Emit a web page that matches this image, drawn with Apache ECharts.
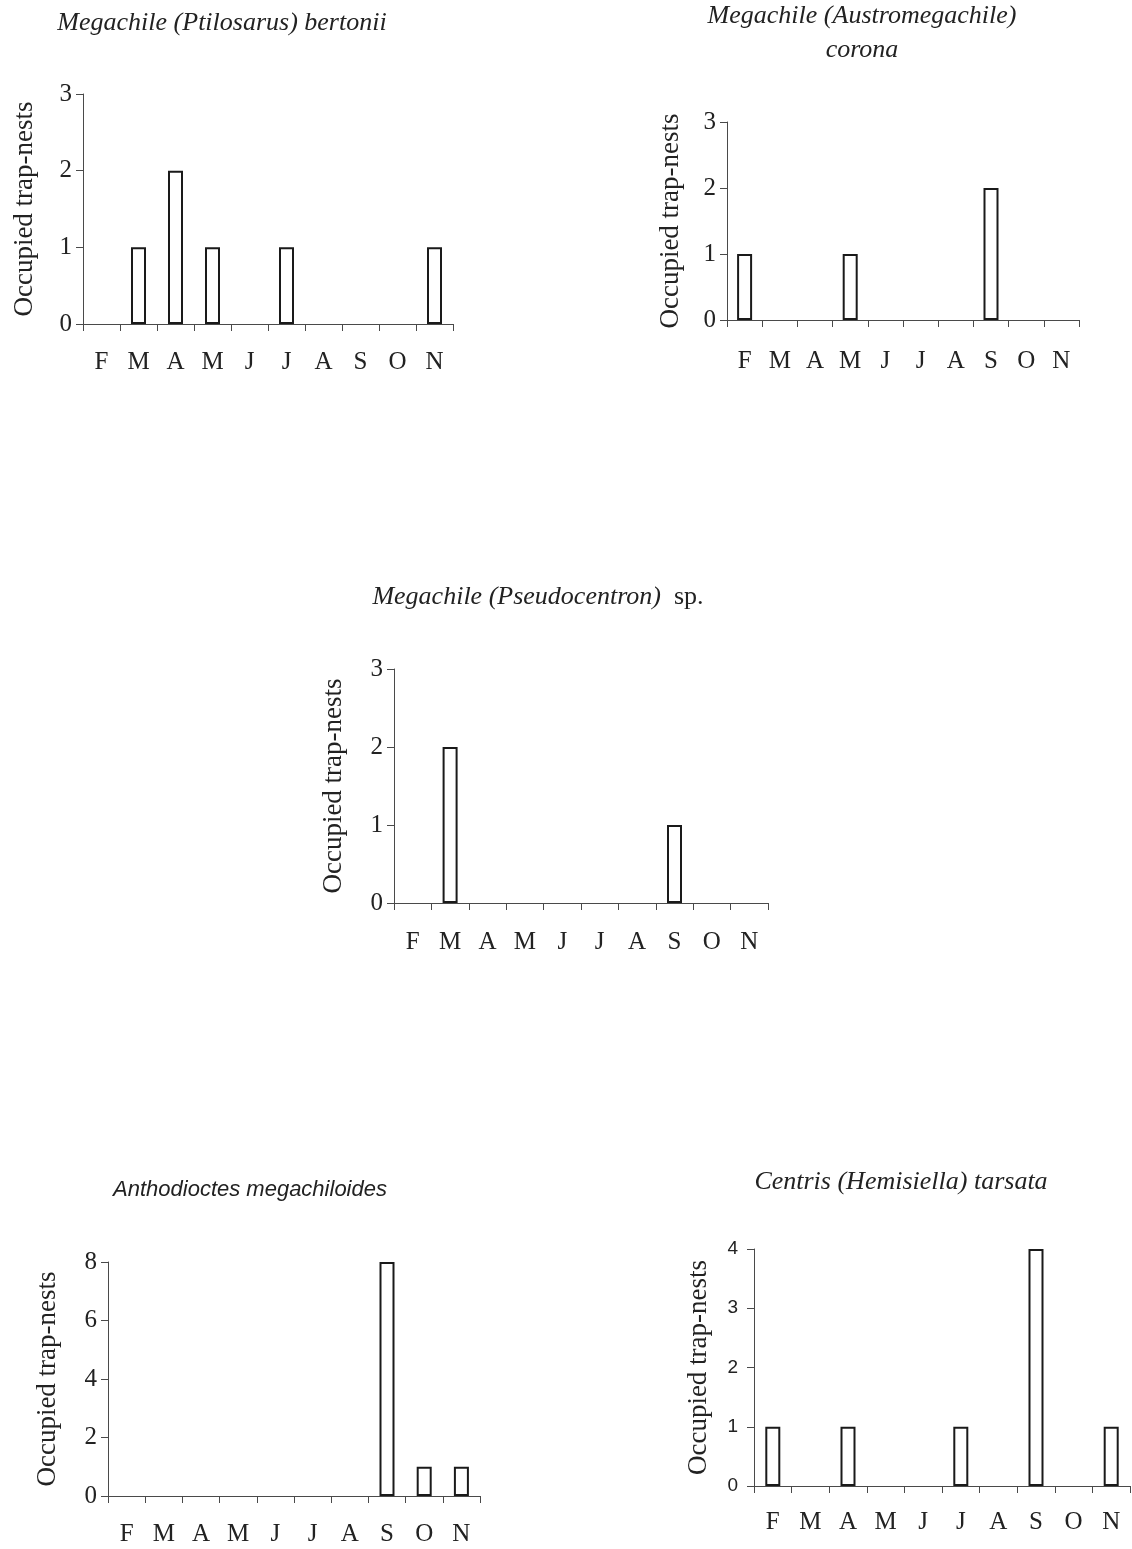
<!DOCTYPE html>
<html>
<head>
<meta charset="utf-8">
<style>
html,body{margin:0;padding:0;background:#fff;}
#chart{width:1132px;height:1549px;}
</style>
<script src="https://cdn.jsdelivr.net/npm/echarts@6/dist/echarts.min.js"></script>
</head>
<body>
<div id="chart"></div>
<script>
// ---- Data ----
const months = ['F', 'M', 'A', 'M', 'J', 'J', 'A', 'S', 'O', 'N'];
const bertonii = [0, 1, 2, 1, 0, 1, 0, 0, 0, 1];
const corona = [1, 0, 0, 1, 0, 0, 0, 2, 0, 0];
const pseudocentron = [0, 2, 0, 0, 0, 0, 0, 1, 0, 0];
const anthodioctes = [0, 0, 0, 0, 0, 0, 0, 8, 1, 1];
const tarsata = [1, 0, 1, 0, 0, 1, 0, 4, 0, 1];
const yMaxes = [3, 3, 3, 8, 4];
const yIntervals = [1, 1, 1, 2, 1];
const yName = 'Occupied trap-nests';

// ---- Layout / style ----
const SERIF = '"Liberation Serif", "Times New Roman", serif';
const SANS = '"Liberation Sans", Arial, sans-serif';
const panels = [
  { data: bertonii, x0: 83, x1: 453, y0: 94, y1: 324, xMargin: 26, yFont: SERIF, yFontSize: 25, yMargin: 11, nameGap: 45 },
  { data: corona, x0: 727, x1: 1079, y0: 122, y1: 320, xMargin: 29, yFont: SERIF, yFontSize: 25, yMargin: 11, nameGap: 43 },
  { data: pseudocentron, x0: 394, x1: 768, y0: 669, y1: 903, xMargin: 27, yFont: SERIF, yFontSize: 25, yMargin: 11, nameGap: 47 },
  { data: anthodioctes, x0: 108, x1: 480, y0: 1262, y1: 1496, xMargin: 26, yFont: SERIF, yFontSize: 25, yMargin: 11, nameGap: 47 },
  { data: tarsata, x0: 754, x1: 1130, y0: 1249, y1: 1486, xMargin: 24, yFont: SANS, yFontSize: 19, yMargin: 16, nameGap: 42 }
];

const axisColor = '#4a4a4a';
const textColor = '#222';

const grids = [], xAxes = [], yAxes = [], series = [];
panels.forEach((p, i) => {
  grids.push({ left: p.x0, top: p.y0, width: p.x1 - p.x0, height: p.y1 - p.y0, containLabel: false, outerBoundsMode: 'none' });
  xAxes.push({
    type: 'category', gridIndex: i, data: months, boundaryGap: true,
    axisLine: { show: true, lineStyle: { color: axisColor, width: 1 } },
    axisTick: { show: true, alignWithLabel: false, interval: 0, length: 7, lineStyle: { color: axisColor, width: 1 } },
    axisLabel: { interval: 0, margin: p.xMargin, fontFamily: SERIF, fontSize: 25, color: textColor },
    splitLine: { show: false }
  });
  yAxes.push({
    type: 'value', gridIndex: i, min: 0, max: yMaxes[i], interval: yIntervals[i],
    axisLine: { show: true, lineStyle: { color: axisColor, width: 1 } },
    axisTick: { show: true, length: 7, lineStyle: { color: axisColor, width: 1 } },
    axisLabel: { margin: p.yMargin, fontFamily: p.yFont, fontSize: p.yFontSize, color: textColor },
    splitLine: { show: false },
    name: yName, nameLocation: 'middle', nameRotate: 90, nameGap: p.nameGap,
    nameTextStyle: { fontFamily: SERIF, fontSize: 27, color: textColor }
  });
  series.push({
    type: 'bar', xAxisIndex: i, yAxisIndex: i, barWidth: 15,
    itemStyle: { color: '#fff', borderColor: '#1a1a1a', borderWidth: 2 },
    data: p.data.map(v => v === 0 ? { value: 0, itemStyle: { borderWidth: 0 } } : v),
    silent: true
  });
});

function titleText(x, y, text, family, size, rich) {
  const st = { text: text, x: x, y: y, align: 'center', verticalAlign: 'middle',
    fontFamily: family, fontSize: size, fontStyle: 'italic', fill: textColor };
  if (rich) st.rich = rich;
  return { type: 'text', style: st, silent: true };
}

const graphics = [
  titleText(222, 23, 'Megachile (Ptilosarus) bertonii', SERIF, 26),
  titleText(862, 16, 'Megachile (Austromegachile)', SERIF, 26),
  titleText(862, 50, 'corona', SERIF, 26),
  titleText(538, 597, '{i|Megachile (Pseudocentron)}  {n|sp.}', SERIF, 26, {
    i: { fontFamily: SERIF, fontSize: 26, fontStyle: 'italic', fill: textColor },
    n: { fontFamily: SERIF, fontSize: 26, fontStyle: 'normal', fill: textColor }
  }),
  titleText(250, 1190, 'Anthodioctes megachiloides', SANS, 22),
  titleText(901, 1182, 'Centris (Hemisiella) tarsata', SERIF, 26)
];

const chart = echarts.init(document.getElementById('chart'));
chart.setOption({
  animation: false,
  backgroundColor: '#fff',
  grid: grids,
  xAxis: xAxes,
  yAxis: yAxes,
  series: series,
  graphic: graphics
});
</script>
</body>
</html>
